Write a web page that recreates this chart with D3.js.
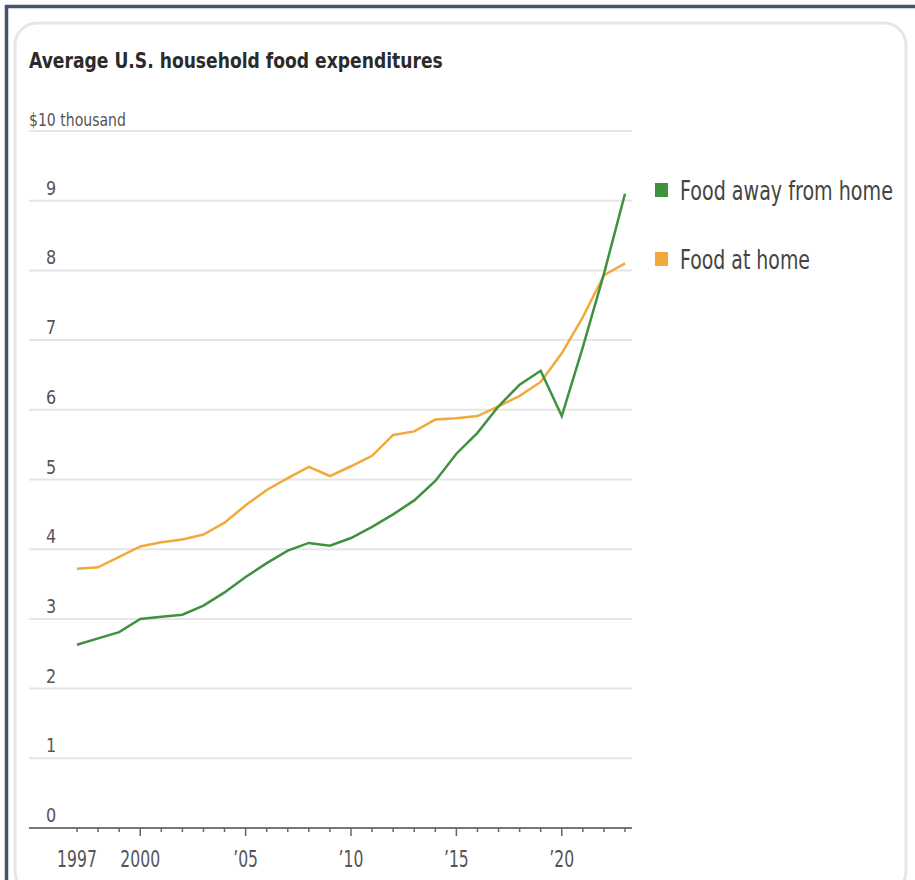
<!DOCTYPE html>
<html lang="en">
<head>
  <meta charset="UTF-8">
  <title>Average U.S. household food expenditures</title>
  <script src="https://d3js.org/d3.v7.min.js"></script>
  <style>
    body { margin: 0; background: #fff; }
    svg { display: block; font-family: "DejaVu Sans", sans-serif; }
  </style>
</head>
<body>
  <svg width="915" height="880"></svg>

  <script>
    // data, thousands of dollars per household
    const years = d3.range(1997, 2024);
    const awayFromHome = [2.63, 2.72, 2.81, 3.00, 3.03, 3.06, 3.19, 3.38, 3.60, 3.80,
                          3.98, 4.09, 4.05, 4.16, 4.32, 4.50, 4.70, 4.98, 5.37, 5.67,
                          6.05, 6.36, 6.56, 5.91, 6.90, 7.95, 9.10];
    const atHome = [3.72, 3.74, 3.89, 4.04, 4.10, 4.14, 4.21, 4.38, 4.63, 4.85,
                    5.02, 5.18, 5.05, 5.19, 5.34, 5.64, 5.69, 5.86, 5.88, 5.91,
                    6.05, 6.20, 6.40, 6.81, 7.33, 7.93, 8.10];
    const yTicks = [0, 1, 2, 3, 4, 5, 6, 7, 8, 9];
    const xLabels = [[1997, "1997"], [2000, "2000"], [2005, "\u201905"], [2010, "\u201910"], [2015, "\u201915"], [2020, "\u201920"]];
    const majorYears = [2000, 2005, 2010, 2015, 2020];

    const svg = d3.select("svg");

    // squeeze a left-anchored text to a given width (condensed newspaper face)
    function squeeze(sel, x0, y0, w) {
      sel.each(function() {
        const k = w / this.getComputedTextLength();
        d3.select(this).attr("transform", `translate(${x0},${y0}) scale(${k},1)`);
      });
    }
    function condense(sel, k) {
      sel.each(function() {
        const w = this.getComputedTextLength();
        d3.select(this).attr("textLength", w * k).attr("lengthAdjust", "spacingAndGlyphs");
      });
    }

    // card + frame (only top and left edges of the frame show)
    svg.append("rect").attr("x", 15).attr("y", 23).attr("width", 891).attr("height", 870).attr("rx", 22)
      .attr("fill", "none").attr("stroke", "#e6e6e6").attr("stroke-width", 3);
    svg.append("path").attr("d", "M6.5,880V6.5H915")
      .attr("fill", "none").attr("stroke", "#45546c").attr("stroke-width", 3.5);

    const x = d3.scaleLinear().domain([1997, 2023]).range([77, 625]);
    const y = d3.scaleLinear().domain([0, 10]).range([828, 131]);
    const gridLeft = 29, gridRight = 632;

    svg.append("text")
      .attr("font-size", 22).attr("font-weight", "bold").attr("fill", "#2b2b2b")
      .text("Average U.S. household food expenditures")
      .call(squeeze, 29, 68, 414);

    // gridlines
    svg.append("g").selectAll("line").data(yTicks.slice(1).concat([10])).join("line")
      .attr("x1", gridLeft).attr("x2", gridRight)
      .attr("y1", d => y(d)).attr("y2", d => y(d))
      .attr("stroke", "#e6e6e6").attr("stroke-width", 2);

    svg.append("text")
      .attr("font-size", 18).attr("fill", "#555").text("$10 thousand")
      .call(squeeze, 29, y(10) - 5, 97);

    svg.append("g").selectAll("text").data(yTicks).join("text")
      .attr("x", 46).attr("y", d => y(d) - 6)
      .attr("font-size", 20).attr("fill", "#555").text(d => d)
      .call(condense, 0.8);

    // axis
    svg.append("line").attr("x1", gridLeft).attr("x2", gridRight)
      .attr("y1", y(0)).attr("y2", y(0)).attr("stroke", "#777").attr("stroke-width", 2);
    svg.append("g").selectAll("line").data(years).join("line")
      .attr("x1", d => x(d)).attr("x2", d => x(d))
      .attr("y1", y(0)).attr("y2", d => y(0) + (majorYears.includes(d) ? 8 : 4))
      .attr("stroke", "#666").attr("stroke-width", 1.5);
    svg.append("g").selectAll("text").data(xLabels).join("text")
      .attr("x", d => x(d[0])).attr("y", 867).attr("text-anchor", "middle")
      .attr("font-size", 23).attr("fill", "#555").text(d => d[1])
      .call(condense, 0.68);

    // lines
    const line = d3.line().x((d, i) => x(years[i])).y(d => y(d));
    const series = [
      {name: "Food away from home", values: awayFromHome, color: "#3f913d", w: 213},
      {name: "Food at home", values: atHome, color: "#f2a93b", w: 130}
    ];
    svg.append("path").datum(atHome).attr("d", line)
      .attr("fill", "none").attr("stroke", "#f2a93b").attr("stroke-width", 2.5);
    svg.append("path").datum(awayFromHome).attr("d", line)
      .attr("fill", "none").attr("stroke", "#3f913d").attr("stroke-width", 2.5);

    // legend
    series.forEach((s, i) => {
      const top = 183 + i * 69;
      svg.append("rect").attr("x", 655).attr("y", top)
        .attr("width", 13).attr("height", 14).attr("fill", s.color);
      svg.append("text")
        .attr("font-size", 27).attr("fill", "#444").text(s.name)
        .call(squeeze, 680, top + 17, s.w);
    });
  </script>
</body>
</html>
